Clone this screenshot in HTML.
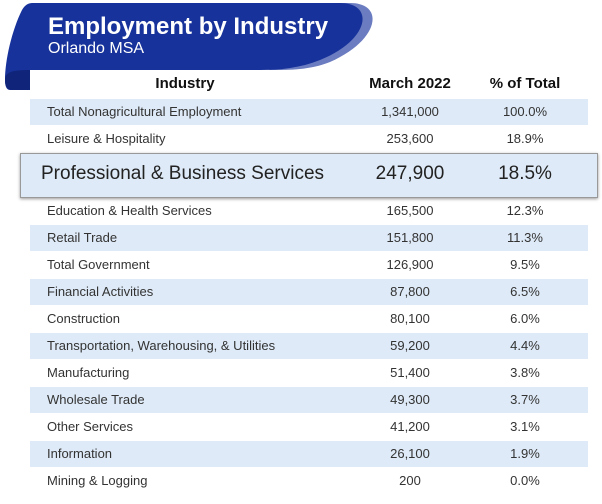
<!DOCTYPE html>
<html><head><style>
body{margin:0;width:602px;height:504px;background:#fff;position:relative;overflow:hidden;font-family:"Liberation Sans",sans-serif;}
.t{position:absolute;white-space:nowrap;}
.row{position:absolute;left:30px;width:558px;height:26px;}
.sh{background:#deeaf7;}
.c1{position:absolute;left:47px;font-size:13px;color:#333;}
.c2{position:absolute;left:350px;width:120px;text-align:center;font-size:13px;color:#333;}
.c3{position:absolute;left:470px;width:110px;text-align:center;font-size:13px;color:#333;}
.h{font-weight:bold;font-size:15px;color:#111;}
</style></head><body>
<svg width="602" height="100" style="position:absolute;left:0;top:0">
<path d="M30,3 L350,3 C385,3 380,40 330,62 C310,70 290,70 270,70 Z" fill="#6b7cc0"/>
<path d="M5,80 C5,60 12,30 22,10 C25,5 28,3 33,3 L340,3 C375,3 370,40 320,60 C300,68 280,70 260,70 L30,70 L30,90 L10,90 C6,90 5,85 5,80 Z" fill="#17329a"/>
<path d="M5,80 C5,72 12,70 30,70 L30,90 L12,90 C7,90 5,86 5,80 Z" fill="#10247a"/>
</svg>
<div class="t" style="left:48px;top:13px;font-size:24px;font-weight:bold;color:#fff">Employment by Industry</div>
<div class="t" style="left:48px;top:40px;font-size:16px;color:#fff">Orlando MSA</div>
<div class="t h" style="left:100px;top:75px;width:170px;text-align:center">Industry</div>
<div class="t h" style="left:350px;top:75px;width:120px;text-align:center">March 2022</div>
<div class="t h" style="left:470px;top:75px;width:110px;text-align:center">% of Total</div>

<div class="row sh" style="top:99px"></div>
<div class="row sh" style="top:225px"></div>
<div class="row sh" style="top:279px"></div>
<div class="row sh" style="top:333px"></div>
<div class="row sh" style="top:387px"></div>
<div class="row sh" style="top:441px"></div>

<div style="position:absolute;left:20px;top:153px;width:576px;height:43px;background:#deeaf7;border:1px solid #999;box-shadow:0 1px 3px rgba(0,0,0,.4)"></div>
<div class="t" style="left:41px;top:163px;font-size:19px;color:#222">Professional &amp; Business Services</div>
<div class="t" style="left:350px;top:163px;width:120px;text-align:center;font-size:19px;color:#222">247,900</div>
<div class="t" style="left:470px;top:163px;width:110px;text-align:center;font-size:19px;color:#222">18.5%</div>

<div class="t c1" style="top:104px">Total Nonagricultural Employment</div><div class="t c2" style="top:104px">1,341,000</div><div class="t c3" style="top:104px">100.0%</div>
<div class="t c1" style="top:131px">Leisure &amp; Hospitality</div><div class="t c2" style="top:131px">253,600</div><div class="t c3" style="top:131px">18.9%</div>
<div class="t c1" style="top:203px">Education &amp; Health Services</div><div class="t c2" style="top:203px">165,500</div><div class="t c3" style="top:203px">12.3%</div>
<div class="t c1" style="top:230px">Retail Trade</div><div class="t c2" style="top:230px">151,800</div><div class="t c3" style="top:230px">11.3%</div>
<div class="t c1" style="top:257px">Total Government</div><div class="t c2" style="top:257px">126,900</div><div class="t c3" style="top:257px">9.5%</div>
<div class="t c1" style="top:284px">Financial Activities</div><div class="t c2" style="top:284px">87,800</div><div class="t c3" style="top:284px">6.5%</div>
<div class="t c1" style="top:311px">Construction</div><div class="t c2" style="top:311px">80,100</div><div class="t c3" style="top:311px">6.0%</div>
<div class="t c1" style="top:338px">Transportation, Warehousing, &amp; Utilities</div><div class="t c2" style="top:338px">59,200</div><div class="t c3" style="top:338px">4.4%</div>
<div class="t c1" style="top:365px">Manufacturing</div><div class="t c2" style="top:365px">51,400</div><div class="t c3" style="top:365px">3.8%</div>
<div class="t c1" style="top:392px">Wholesale Trade</div><div class="t c2" style="top:392px">49,300</div><div class="t c3" style="top:392px">3.7%</div>
<div class="t c1" style="top:419px">Other Services</div><div class="t c2" style="top:419px">41,200</div><div class="t c3" style="top:419px">3.1%</div>
<div class="t c1" style="top:446px">Information</div><div class="t c2" style="top:446px">26,100</div><div class="t c3" style="top:446px">1.9%</div>
<div class="t c1" style="top:473px">Mining &amp; Logging</div><div class="t c2" style="top:473px">200</div><div class="t c3" style="top:473px">0.0%</div>
</body></html>
